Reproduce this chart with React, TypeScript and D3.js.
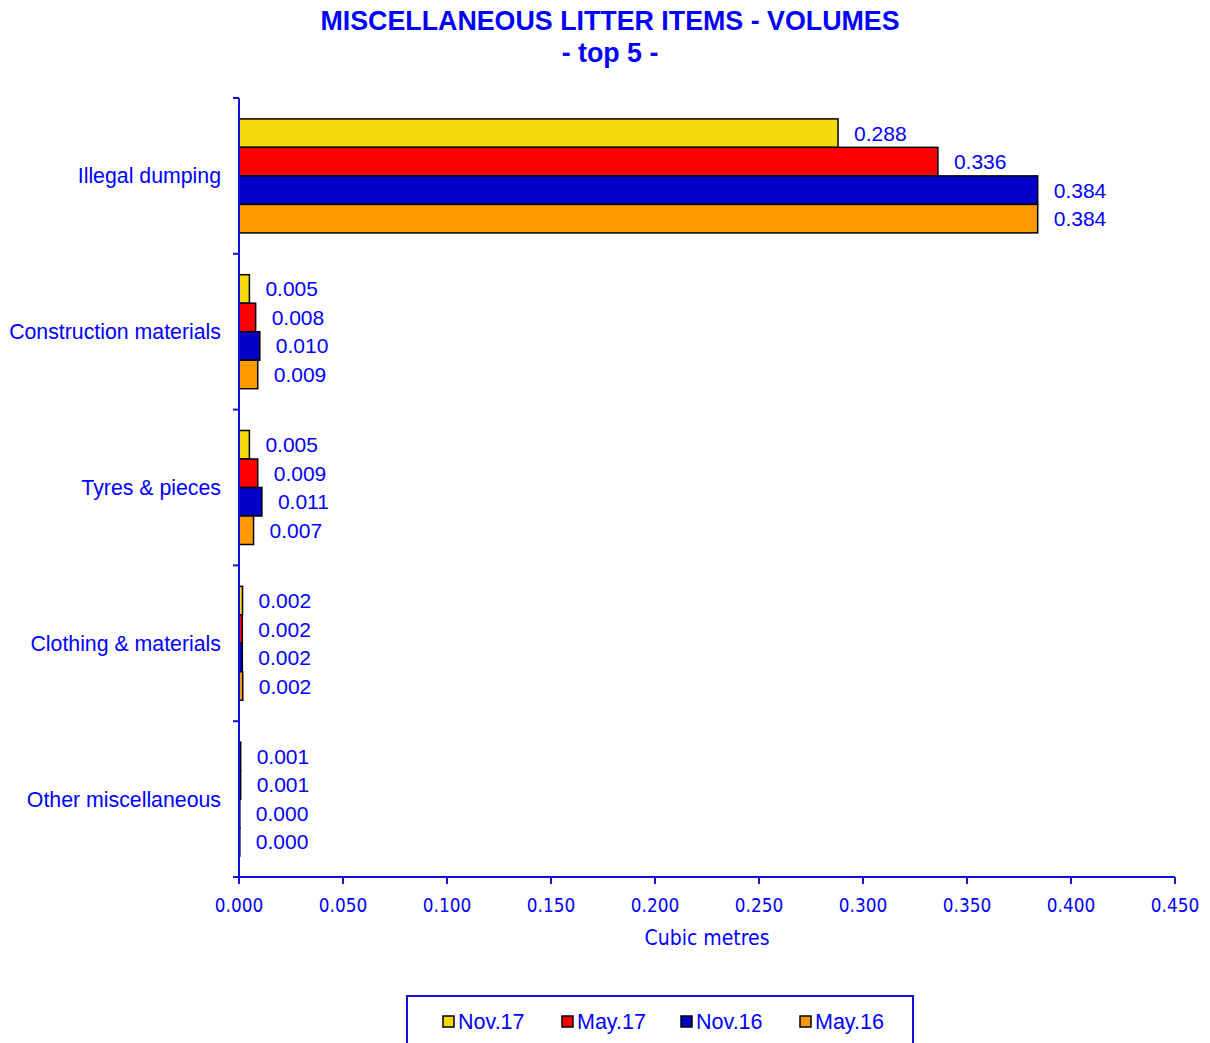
import React from "react";
import * as d3 from "d3";

const categories = [
  "Illegal dumping",
  "Construction materials",
  "Tyres & pieces",
  "Clothing & materials",
  "Other miscellaneous",
];
const seriesNames = ["Nov.17", "May.17", "Nov.16", "May.16"];
const seriesColors = ["#F5D90A", "#FF0000", "#0000C8", "#FF9900"];
const nov17 = [0.288, 0.005, 0.005, 0.0017, 0.0008];
const may17 = [0.336, 0.008, 0.009, 0.0016, 0.0008];
const nov16 = [0.384, 0.01, 0.011, 0.0016, 0.0004];
const may16 = [0.384, 0.009, 0.007, 0.0018, 0.0004];
const seriesValues = [nov17, may17, nov16, may16];
const xTicks = [0, 0.05, 0.1, 0.15, 0.2, 0.25, 0.3, 0.35, 0.4, 0.45];

const W = 1210;
const H = 1043;
const TXT = "#0000FF";
const AX = "#1010D8";
const ARIAL = "'Liberation Sans', Arial, sans-serif";
const TAHOMA = "'DejaVu Sans Condensed', 'DejaVu Sans', sans-serif";

export default function App() {
  const x = d3.scaleLinear().domain([0, 0.45]).range([239, 1175]);
  const y = d3.scaleBand<string>().domain(categories).range([98, 877]).padding(0);
  const ys = d3
    .scaleBand<string>()
    .domain(seriesNames)
    .range([0, y.bandwidth()])
    .paddingInner(0)
    .paddingOuter(0.733);
  const fmt = d3.format(".3f");
  const boundaries = categories.map((c) => y(c)!).concat([877]);

  return (
    <svg
      width={W}
      height={H}
      style={{ position: "absolute", left: 0, top: 0, background: "#fff" }}
    >
      {/* Title */}
      <text x={610} y={30} textAnchor="middle" fill={TXT} fontFamily={ARIAL} fontWeight="bold" fontSize={26.8}>
        MISCELLANEOUS LITTER ITEMS - VOLUMES
      </text>
      <text x={610} y={62} textAnchor="middle" fill={TXT} fontFamily={ARIAL} fontWeight="bold" fontSize={26.8}>
        - top 5 -
      </text>

      {/* Bars */}
      {categories.map((c, ci) => (
        <g key={c} transform={`translate(0,${y(c)})`}>
          {seriesNames.map((s, si) => {
            const v = seriesValues[si][ci];
            const by = ys(s)!;
            const bh = ys.bandwidth();
            return (
              <g key={s}>
                <rect
                  x={x(0)}
                  y={by}
                  width={Math.max(0, x(v) - x(0))}
                  height={bh}
                  fill={seriesColors[si]}
                  stroke="#000"
                  strokeWidth={1.5}
                />
                <text
                  x={x(v) + 16}
                  y={by + bh / 2 + 7.5}
                  fill={TXT}
                  fontFamily={ARIAL}
                  fontSize={21}
                >
                  {fmt(v)}
                </text>
              </g>
            );
          })}
        </g>
      ))}

      {/* Category labels */}
      {categories.map((c) => (
        <text
          key={c}
          x={221}
          y={y(c)! + y.bandwidth() / 2 + 7.5}
          textAnchor="end"
          fill={TXT}
          fontFamily={ARIAL}
          fontSize={21.3}
        >
          {c}
        </text>
      ))}

      {/* Y axis */}
      <line x1={239} x2={239} y1={98} y2={877} stroke={AX} strokeWidth={2} />
      {boundaries.map((b, i) => (
        <line key={i} x1={233} x2={239} y1={b} y2={b} stroke={AX} strokeWidth={2} />
      ))}

      {/* X axis */}
      <line x1={233} x2={1175} y1={877} y2={877} stroke={AX} strokeWidth={2} />
      {xTicks.map((t) => (
        <g key={t}>
          <line x1={x(t)} x2={x(t)} y1={877} y2={884} stroke={AX} strokeWidth={2} />
          <text
            x={x(t)}
            y={912}
            textAnchor="middle"
            fill={TXT}
            fontFamily={TAHOMA}
            fontSize={18.8}
          >
            {fmt(t)}
          </text>
        </g>
      ))}
      <text x={707} y={945} textAnchor="middle" fill={TXT} fontFamily={TAHOMA} fontSize={21}>
        Cubic metres
      </text>

      {/* Legend */}
      <rect x={407} y={996} width={506} height={60} fill="#fff" stroke={AX} strokeWidth={2} />
      {seriesNames.map((s, i) => {
        const lx = 443 + i * 119;
        return (
          <g key={s}>
            <rect x={lx} y={1016} width={11} height={11} fill={seriesColors[i]} stroke="#000" strokeWidth={1.5} />
            <text x={lx + 15} y={1029} fill={TXT} fontFamily={ARIAL} fontSize={21.5}>
              {s}
            </text>
          </g>
        );
      })}
    </svg>
  );
}
